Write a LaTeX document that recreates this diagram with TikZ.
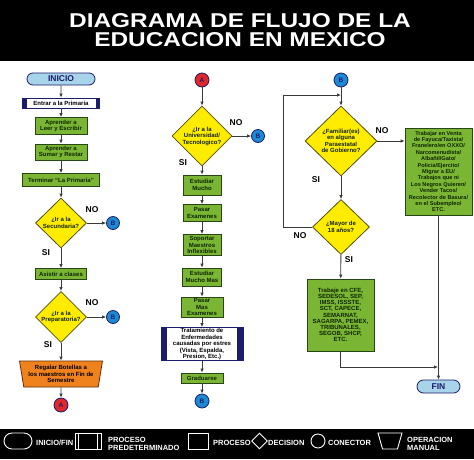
\documentclass[tikz,border=0pt]{standalone}
\usepackage{fontspec}
\setmainfont{Liberation Sans}
\newfontfamily\titlefont[FakeStretch=1.22]{Liberation Sans}
\usetikzlibrary{arrows.meta, positioning, shapes.geometric, shapes.misc}

\definecolor{verde}{RGB}{122,182,52}
\definecolor{bordeverde}{RGB}{40,70,20}
\definecolor{textoverde}{RGB}{14,36,0}
\definecolor{amarillo}{RGB}{255,236,0}
\definecolor{bordeamarillo}{RGB}{80,80,10}
\definecolor{naranja}{RGB}{240,130,30}
\definecolor{bordenaranja}{RGB}{100,45,5}
\definecolor{azul}{RGB}{28,138,210}
\definecolor{rojo}{RGB}{224,40,42}
\definecolor{celeste}{RGB}{168,212,234}
\definecolor{marino}{RGB}{28,28,108}
\definecolor{linea}{RGB}{58,58,58}

\begin{document}
\begin{tikzpicture}[x=1pt, y=-1pt,
    every node/.style={font=\bfseries\fontsize{6}{6.5}\selectfont, align=center, inner sep=0pt},
    proceso/.style={rectangle, draw=bordeverde, fill=verde, line width=0.8pt, text=textoverde},
    predef/.style={rectangle, draw=marino, fill=white, line width=0.8pt, text=black,
      path picture={
        \fill[marino] (path picture bounding box.north west) rectangle ([xshift=#1]path picture bounding box.south west);
        \fill[marino] (path picture bounding box.north east) rectangle ([xshift=-#1]path picture bounding box.south east);}},
    predef/.default=4pt,
    decision/.style={diamond, draw=bordeamarillo, fill=amarillo, line width=0.8pt, text=textoverde},
    terminal/.style={rounded rectangle, draw=marino, fill=celeste, line width=0.8pt, text=marino,
      font=\bfseries\fontsize{8.5}{9}\selectfont},
    manual/.style={trapezium, trapezium stretches=true, trapezium angle=78, shape border rotate=180,
      draw=bordenaranja, fill=naranja, line width=0.8pt, text=black},
    conector/.style={circle, minimum size=13pt, draw=marino, line width=0.8pt, fill=azul, text=marino,
      font=\bfseries\fontsize{6.5}{7}\selectfont},
    etiqueta/.style={font=\bfseries\fontsize{8.5}{9}\selectfont, text=black},
    flujo/.style={draw=linea, line width=0.9pt, -{Latex[length=4pt, width=3.5pt]}},
    leyenda/.style={draw=white, line width=0.9pt, inner sep=1pt},
    textoley/.style={anchor=west, align=left, text=white, font=\bfseries\fontsize{7.5}{8}\selectfont}]

  \useasboundingbox (0,0) rectangle (474,459);
  \fill[white] (0,0) rectangle (474,459);

  % Titulo
  \fill[black] (0,0) rectangle (474,61);
  \node[anchor=base, text=white, font=\titlefont\bfseries\fontsize{20}{20}\selectfont] (titulo1) at (240,27) {DIAGRAMA DE FLUJO DE LA};
  \node[anchor=base, text=white, font=\titlefont\bfseries\fontsize{20}{20}\selectfont] (titulo2) at (240,46) {EDUCACION EN MEXICO};

  % Primera columna
  \node[terminal, minimum width=68pt, minimum height=12pt] (inicio) at (61,79) {INICIO};
  \node[predef, minimum width=77pt, minimum height=10pt] (primaria) at (61,103) {Entrar a la Primaria};
  \node[proceso, minimum width=52pt, minimum height=17pt] (leer) at (61,126) {Aprender a\\Leer y Escribir};
  \node[proceso, minimum width=52pt, minimum height=16pt] (sumar) at (61,152) {Aprender a\\Sumar y Restar};
  \node[proceso, minimum width=77pt, minimum height=13pt] (terminar) at (61,180) {Terminar “La Primaria”};
  \node[decision, minimum width=51pt, minimum height=50pt] (secundaria) at (61,223) {¿Ir a la\\Secundaria?};
  \node[conector] (b1) at (113,223) {B};
  \node[etiqueta] (no1) at (92,210) {NO};
  \node[etiqueta] (si1) at (46,253) {SI};
  \node[proceso, minimum width=51pt, minimum height=11pt] (asistir) at (61,274) {Asistir a clases};
  \node[decision, minimum width=51pt, minimum height=50pt] (prepa) at (61,317) {¿Ir a la\\Preparatoria?};
  \node[conector] (b2) at (113,317) {B};
  \node[etiqueta] (no2) at (92,303) {NO};
  \node[etiqueta] (si2) at (48,345) {SI};
  \node[manual, minimum width=83pt, minimum height=26pt] (regalar) at (61,374) {Regalar Botellas a\\los maestros en Fin de\\Semestre};
  \node[conector, fill=rojo, minimum size=14pt] (a1) at (61,405) {A};

  % Segunda columna
  \node[conector, fill=rojo, minimum size=14pt] (a2) at (202,80) {A};
  \node[decision, minimum width=60pt, minimum height=60pt] (uni) at (202,136) {¿Ir a la\\Universidad/\\Tecnologico?};
  \node[conector] (b3) at (258,136) {B};
  \node[etiqueta] (no3) at (236,123) {NO};
  \node[etiqueta] (si3) at (183,163) {SI};
  \node[proceso, minimum width=38pt, minimum height=20pt] (estudiar) at (202,185) {Estudiar\\Mucho};
  \node[proceso, minimum width=38pt, minimum height=17pt] (examenes) at (202,213) {Pasar\\Examenes};
  \node[proceso, minimum width=38pt, minimum height=21pt] (soportar) at (202,245) {Soportar\\Maestros\\Inflexibles};
  \node[proceso, minimum width=39pt, minimum height=18pt] (estudiarmas) at (202,277) {Estudiar\\Mucho Mas};
  \node[proceso, minimum width=42pt, minimum height=20pt] (masexamenes) at (202,307) {Pasar\\Mas\\Examenes};
  \node[predef=6pt, minimum width=82pt, minimum height=33pt] (tratamiento) at (202,344) {Tratamiento de\\Enfermedades\\causadas por estres\\(Vista, Espalda,\\Presion, Etc.)};
  \node[proceso, minimum width=42pt, minimum height=10pt] (graduarse) at (202,378) {Graduarse};
  \node[conector, minimum size=14pt] (b4) at (202,401) {B};

  % Tercera columna
  \node[conector, minimum size=14pt] (b5) at (341,80) {B};
  \node[decision, minimum width=72pt, minimum height=70pt] (familiar) at (341,141) {¿Familiar(es)\\en alguna\\Paraestatal\\de Gobierno?};
  \node[etiqueta] (no4) at (382,131) {NO};
  \node[etiqueta] (si4) at (316,180) {SI};
  \node[proceso, minimum width=67pt, minimum height=87pt, font=\bfseries\fontsize{5.6}{6.4}\selectfont] (ventas) at (438.5,171.5)
    {Trabajar en Venta\\de Fayuca/Taxista/\\Franelero/en OXXO/\\Narcomenudista/\\Albañil/Gato/\\Policia/Ejercito/\\Migrar a EU/\\Trabajos que ni\\Los Negros Quieren/\\Vender Tacos/\\Recolector de Basura/\\en el Subempleo/\\ETC.};
  \node[decision, minimum width=57pt, minimum height=55pt] (mayor) at (341,227) {¿Mayor de\\18 años?};
  \node[etiqueta] (no5) at (300,236) {NO};
  \node[etiqueta] (si5) at (349,260) {SI};
  \node[proceso, minimum width=67pt, minimum height=72pt, font=\bfseries\fontsize{6}{6.2}\selectfont] (gob) at (340.5,315)
    {Trabaje en CFE,\\SEDESOL, SEP,\\IMSS, ISSSTE,\\SCT, CAPECE,\\SEMARNAT,\\SAGARPA, PEMEX,\\TRIBUNALES,\\SEGOB, SHCP,\\ETC.};
  \node[terminal, minimum width=43pt, minimum height=13pt] (fin) at (438.5,386.5) {FIN};
  \coordinate (vuelta) at (283,95);
  \coordinate (entrada) at (341,95);
  \coordinate (union) at (438,367);

  % Conexiones
  \foreach \de/\a in {inicio/primaria, primaria/leer, leer/sumar, sumar/terminar, terminar/secundaria,
      secundaria/b1, secundaria/asistir, asistir/prepa, prepa/b2, prepa/regalar, regalar/a1,
      a2/uni, uni/b3, uni/estudiar, estudiar/examenes, examenes/soportar, soportar/estudiarmas,
      estudiarmas/masexamenes, masexamenes/tratamiento, tratamiento/graduarse, graduarse/b4,
      b5/familiar, familiar/mayor, mayor/gob, ventas/fin}
    \draw[flujo] (\de) -- (\a);
  \draw[flujo] (familiar.east) -- (familiar.east -| ventas.west);
  \draw[flujo] (mayor.west) -| (vuelta) -- (entrada);
  \draw[flujo] (gob.south) |- (union);

  % Simbologia
  \fill[black] (0,429) rectangle (474,459);
  \node[leyenda, rounded rectangle, minimum width=30pt, minimum height=16pt] (l1) at (18,441) {};
  \node[textoley] (t1) at (36,443) {INICIO/FIN};
  \node[leyenda, rectangle, minimum width=26pt, minimum height=16pt] (l2) at (88,441) {};
  \draw[white, line width=0.9pt] ([xshift=4pt]l2.north west) -- ([xshift=4pt]l2.south west)
    ([xshift=-4pt]l2.north east) -- ([xshift=-4pt]l2.south east);
  \node[textoley] (t2) at (108,444) {PROCESO\\PREDETERMINADO};
  \node[leyenda, rectangle, minimum width=20pt, minimum height=16pt] (l3) at (198,441) {};
  \node[textoley] (t3) at (213,443) {PROCESO};
  \node[leyenda, diamond, minimum width=16pt, minimum height=16pt] (l4) at (259.5,441) {};
  \node[textoley] (t4) at (268,443) {DECISION};
  \node[leyenda, circle, minimum size=14pt] (l5) at (318,441) {};
  \node[textoley] (t5) at (328,443) {CONECTOR};
  \node[leyenda, trapezium, trapezium stretches=true, trapezium angle=73, shape border rotate=180,
    minimum width=24pt, minimum height=16pt] (l6) at (390,441) {};
  \node[textoley] (t6) at (407,444) {OPERACION\\MANUAL};

\end{tikzpicture}
\end{document}
